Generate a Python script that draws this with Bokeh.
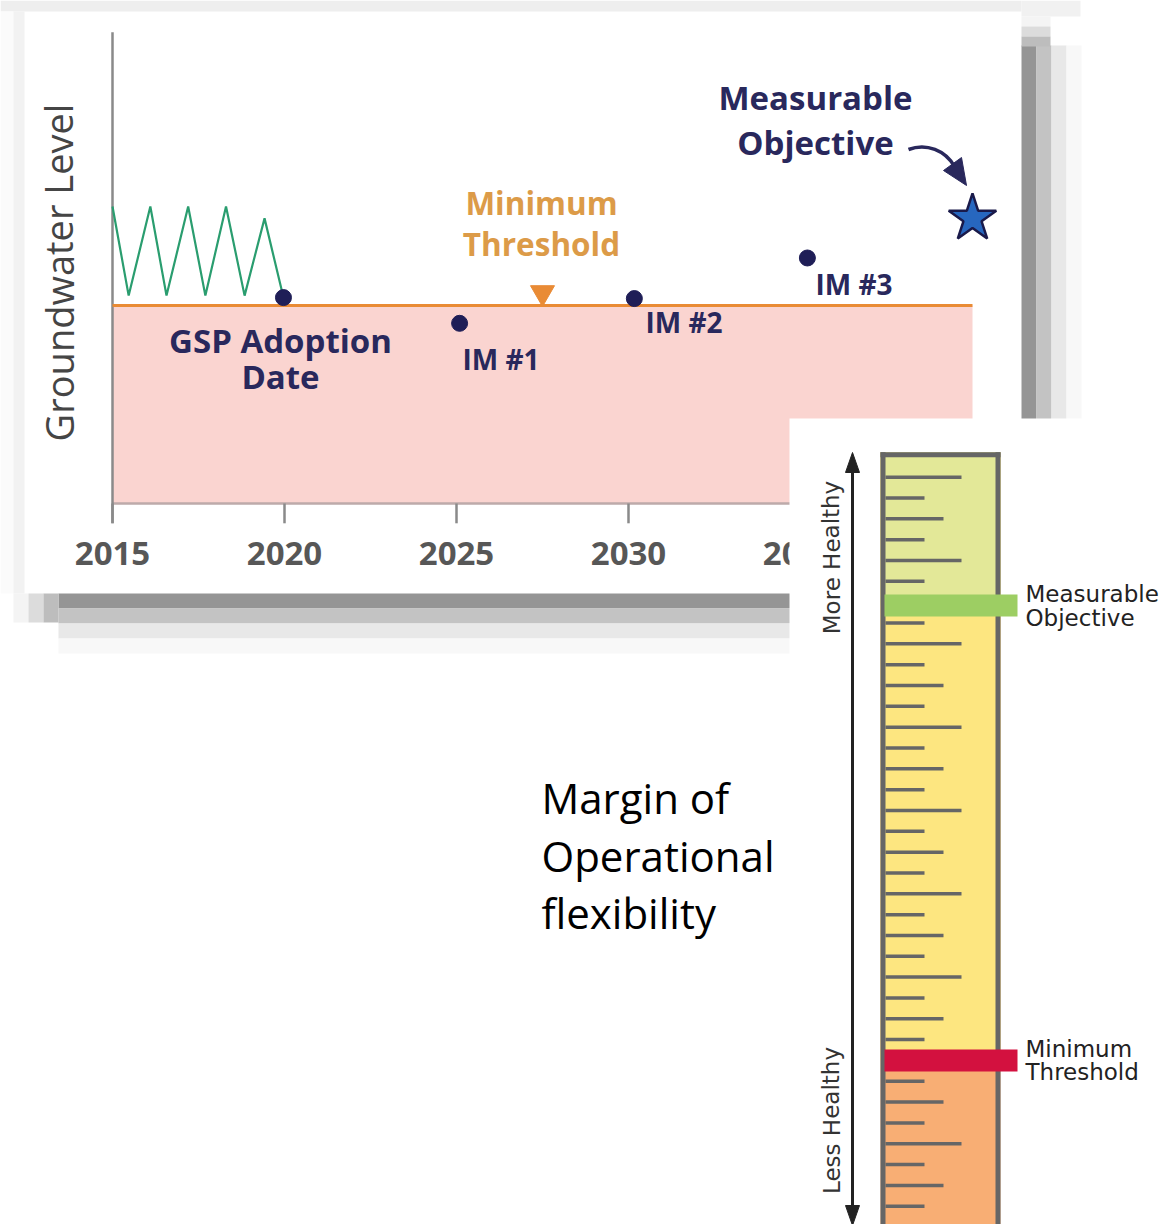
from bokeh.plotting import figure
from bokeh.models import Range1d
from bokeh.embed import file_html
from bokeh.resources import INLINE
from bokeh.core.properties import value

W, H = 1165, 1224

# ---------------- data ----------------
tick_years = [2015, 2020, 2025, 2030, 2035]
tick_labels = ["2015", "2020", "2025", "2030", "2035"]

# historical (pre-GSP) groundwater fluctuation
hist_years = [2015.0, 2015.47, 2016.1, 2016.57, 2017.2, 2017.7, 2018.3, 2018.84, 2019.42, 2019.97]
hist_level = [15.0, 10.5, 15.0, 10.5, 15.0, 10.5, 15.0, 10.5, 14.4, 10.4]

# GSP adoption + interim milestones
milestone_years = [2019.97, 2025.09, 2030.17, 2035.2]
milestone_level = [10.4, 9.1, 10.35, 12.4]

objective_year, objective_level = 2040.0, 14.4
threshold_level = 10.0
threshold_marker_year, threshold_marker_level = 2027.5, 10.65
chart_start, chart_end = 2015, 2040
axis_top_level = 23.8

# gauge (ruler) scale
long_ticks = [36, 32, 28, 24, 20, 16, 12, 8, 4]
medium_ticks = [34, 30, 26, 22, 18, 14, 10, 6, 2]
short_ticks = [35, 33, 31, 29, 27, 25, 23, 21, 19, 17, 15, 13, 11, 9, 7, 5, 3, 1]
gauge_top = 37.2
gauge_objective = 29.84
gauge_threshold = 8.0

# ---------------- figure ----------------
def Y(py):
    return H - py

p = figure(width=W, height=H, x_range=Range1d(0, W), y_range=Range1d(0, H),
           output_backend="svg", toolbar_location=None, min_border=0)
p.axis.visible = False
p.grid.visible = False
p.outline_line_color = None
p.background_fill_color = "white"
p.border_fill_color = "white"

PX_YEAR = 34.4
X2015 = 112
PX_LVL = 19.8
YBASE = Y(503)
p.extra_x_ranges = {"yr": Range1d(2015 - X2015 / PX_YEAR, 2015 + (W - X2015) / PX_YEAR)}
p.extra_y_ranges = {
    "lvl": Range1d(-YBASE / PX_LVL, (H - YBASE) / PX_LVL),
    "g": Range1d(36 - Y(476.7) / 20.83, 36 + (H - Y(476.7)) / 20.83),
}
D = dict(x_range_name="yr", y_range_name="lvl")

# ---------------- frame shadows ----------------
p.quad(left=0, right=1021, top=Y(0), bottom=Y(11), fill_color="#eeeeee", line_color=None)
p.quad(left=1021, right=1080, top=Y(0), bottom=Y(16), fill_color="#f1f1f1", line_color=None)
p.quad(left=0, right=13, top=Y(11), bottom=Y(593), fill_color="#fbfbfb", line_color=None)
p.quad(left=13, right=24, top=Y(11), bottom=Y(593), fill_color="#f2f2f2", line_color=None)
band_colors = ["#959595", "#c3c3c3", "#e8e8e8", "#f8f8f8"]
for i, c in enumerate(band_colors):
    p.quad(left=58, right=1080, top=Y(593 + 15 * i), bottom=Y(593 + 15 * (i + 1)),
           fill_color=c, line_color=None)
    p.quad(left=1021 + 15 * i, right=1021 + 15 * (i + 1), top=Y(45), bottom=Y(593),
           fill_color=c, line_color=None)
fade = ["#f4f4f4", "#dcdcdc", "#bdbdbd"]
for j, c in enumerate(fade):
    p.quad(left=13 + 15 * j, right=28 + 15 * j, top=Y(593), bottom=Y(622), fill_color=c, line_color=None)
    p.quad(left=1021, right=1050, top=Y(16 + 10 * j), bottom=Y(26 + 10 * j), fill_color=c, line_color=None)

# ---------------- main chart ----------------
p.quad(left=chart_start, right=chart_end, bottom=0, top=threshold_level,
       fill_color="#fad4d0", line_color=None, **D)
p.segment(x0=chart_start, x1=chart_end, y0=0, y1=0, line_color="#bdaaaa", line_width=2.5, **D)
p.segment(x0=chart_start, x1=chart_start, y0=-1.0, y1=axis_top_level, line_color="#8a8a8a", line_width=2.5, **D)
p.segment(x0=tick_years, x1=tick_years, y0=[0] * 5, y1=[-1.0] * 5, line_color="#8a8a8a", line_width=2.5, **D)
p.text(x=tick_years, y=[-2.53] * 5, text=tick_labels, text_font=value("Open Sans"),
       text_font_size="33px", text_font_style="bold", text_color="#575757",
       text_align="center", text_baseline="middle", **D)

p.text(x=[58], y=[Y(272)], text=["Groundwater Level"], angle=1.5708,
       text_font=value("Open Sans"), text_font_size="38px", text_color="#454545",
       text_align="center", text_baseline="middle")

p.segment(x0=chart_start, x1=chart_end, y0=threshold_level, y1=threshold_level,
          line_color="#e98b35", line_width=3, **D)
p.line(hist_years, hist_level, line_color="#2a9d6f", line_width=2.2, **D)
p.scatter(milestone_years, milestone_level, size=16, fill_color="#1f1e57", line_color="#1f1e57", **D)
p.scatter([threshold_marker_year], [threshold_marker_level], marker="inverted_triangle", size=24,
          fill_color="#e98b35", line_color="#e98b35", **D)
p.scatter([objective_year], [objective_level], marker="star", size=50,
          fill_color="#2767bf", line_color="#1a1a4a", line_width=2.5, **D)

NAVY = "#29285c"
bold = dict(text_font=value("Open Sans"), text_font_style="bold", text_baseline="middle")
p.text(x=[815, 815], y=[Y(97), Y(142)], text=["Measurable", "Objective"],
       text_font_size="33px", text_color=NAVY, text_align="center", **bold)
p.text(x=[541, 541], y=[Y(202), Y(243)], text=["Minimum", "Threshold"],
       text_font_size="31.5px", text_color="#dc9b48", text_align="center", **bold)
p.text(x=[280, 280], y=[Y(340), Y(376)], text=["GSP Adoption", "Date"],
       text_font_size="33px", text_color=NAVY, text_align="center", **bold)
p.text(x=[462, 645, 815], y=[Y(358), Y(321), Y(283)], text=["IM #1", "IM #2", "IM #3"],
       text_font_size="28px", text_color=NAVY, text_align="left", **bold)

# curved arrow to the objective star
p.bezier(x0=[908], y0=[Y(149)], x1=[954], y1=[Y(166)], cx0=[926], cy0=[Y(142)],
         cx1=[945], cy1=[Y(150)], line_color=NAVY, line_width=3.5)
p.patch(x=[966, 961, 943], y=[Y(185), Y(157), Y(170)], fill_color=NAVY, line_color=NAVY)

# ---------------- gauge panel ----------------
p.quad(left=789, right=W, top=Y(418), bottom=0, fill_color="white", line_color=None)
G = dict(y_range_name="g")
GL, GR = 880, 1000
p.quad(left=GL, right=GR, bottom=0, top=gauge_top, fill_color="#f8ae74", line_color=None, **G)
p.quad(left=GL, right=GR, bottom=gauge_threshold, top=gauge_top, fill_color="#fde680", line_color=None, **G)
p.quad(left=GL, right=GR, bottom=gauge_objective, top=gauge_top, fill_color="#e3e898", line_color=None, **G)
p.segment(x0=[885] * len(long_ticks), x1=[961] * len(long_ticks), y0=long_ticks, y1=long_ticks,
          line_color="#666666", line_width=3.5, **G)
p.segment(x0=[885] * len(medium_ticks), x1=[943] * len(medium_ticks), y0=medium_ticks, y1=medium_ticks,
          line_color="#666666", line_width=3.5, **G)
p.segment(x0=[885] * len(short_ticks), x1=[924] * len(short_ticks), y0=short_ticks, y1=short_ticks,
          line_color="#666666", line_width=3.5, **G)
# gauge outline
p.segment(x0=[882.5, 997.5, 880], x1=[882.5, 997.5, 1000], y0=[-1, -1, gauge_top - 0.12],
          y1=[gauge_top, gauge_top, gauge_top - 0.12], line_color="#666666", line_width=5, **G)
# objective / threshold bands
p.quad(left=884, right=1017, bottom=gauge_objective - 0.53, top=gauge_objective + 0.53,
       fill_color="#9dce63", line_color=None, **G)
p.quad(left=884, right=1017, bottom=gauge_threshold - 0.53, top=gauge_threshold + 0.53,
       fill_color="#d3113f", line_color=None, **G)
gtxt = dict(text_font=value("DejaVu Sans"), text_font_size="23px", text_color="#222222",
            text_align="left", text_baseline="middle")
p.text(x=[1025, 1025], y=[Y(593), Y(617)], text=["Measurable", "Objective"], **gtxt)
p.text(x=[1025, 1025], y=[Y(1048), Y(1071)], text=["Minimum", "Threshold"], **gtxt)

# health arrow
p.segment(x0=[852], x1=[852], y0=[Y(465)], y1=[Y(1212)], line_color="#222222", line_width=3)
p.patch(x=[852, 845, 859], y=[Y(452), Y(472), Y(472)], fill_color="#222222", line_color="#222222")
p.patch(x=[852, 845, 859], y=[Y(1225), Y(1205), Y(1205)], fill_color="#222222", line_color="#222222")
p.text(x=[831, 831], y=[Y(557), Y(1120)], text=["More Healthy", "Less Healthy"], angle=1.5708,
       text_font=value("DejaVu Sans"), text_font_size="23px", text_color="#333333",
       text_align="center", text_baseline="middle")

# ---------------- side note ----------------
p.text(x=[541, 541, 541], y=[Y(797), Y(855), Y(912)],
       text=["Margin of", "Operational", "flexibility"],
       text_font=value("Open Sans"), text_font_size="42px", text_color="#000000",
       text_align="left", text_baseline="middle")

open("out.html", "w").write(file_html(p, INLINE))
